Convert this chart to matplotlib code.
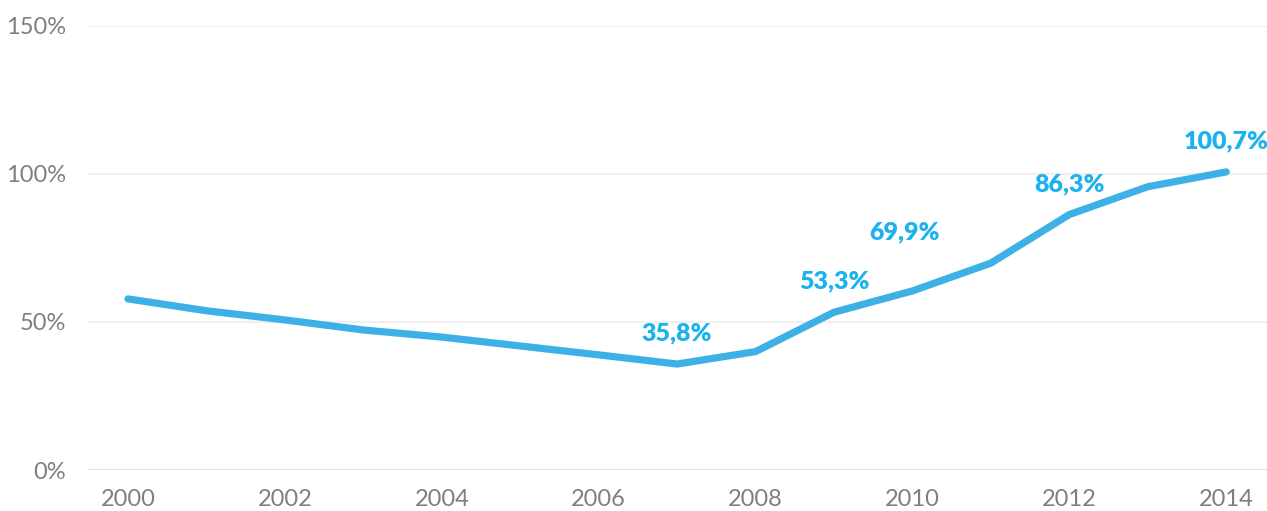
import numpy as np
import matplotlib
matplotlib.use("Agg")
from matplotlib import pyplot as plt

# values (percent)
years = np.arange(2000, 2015)
values = [57.8, 53.8, 50.7, 47.3, 44.9, 41.9, 38.9, 35.8,
          40.0, 53.3, 60.5, 69.9, 86.3, 95.7, 100.7]

# annotated points: year of the point, label text
label_years = [2007, 2009, 2011, 2012, 2014]
label_texts = ["35,8%", "53,3%", "69,9%", "86,3%", "100,7%"]

y_ticks = [0, 50, 100, 150]
x_ticks = [2000, 2002, 2004, 2006, 2008, 2010, 2012, 2014]

plt.rcParams['font.family'] = ['Lato', 'DejaVu Sans']

fig = plt.figure(figsize=(12.67, 5.11), dpi=100)
ax = fig.add_axes([88 / 1267, 41 / 511, 1 - 88 / 1267, 444 / 511])

ax.plot(years, values, color='#3db1e6', linewidth=5.2,
        solid_capstyle='round', solid_joinstyle='round', zorder=3)

for yr, txt in zip(label_years, label_texts):
    v = values[list(years).index(yr)]
    dx = -62 if yr == 2011 else 0  # this one sits left of its point
    ax.annotate(txt, xy=(yr, v), xytext=(dx, 22), textcoords='offset points',
                ha='center', va='center', fontsize=18, fontweight='heavy',
                color='#1cb2ee')

ax.set_xlim(1999.49, 2014.52)
ax.set_ylim(0, 150)
ax.set_yticks(y_ticks)
ax.set_yticklabels([f"{t}%" for t in y_ticks])
ax.set_xticks(x_ticks)
ax.set_xticklabels([str(t) for t in x_ticks])

ax.grid(axis='y', color='#efefef', linewidth=1.6)
ax.grid(axis='x', visible=False)
ax.axhline(0, color='#dcdcdc', linewidth=1.8, zorder=2)
for s in ax.spines.values():
    s.set_visible(False)
ax.tick_params(length=0, labelsize=17, labelcolor='#7f7f7f')
ax.tick_params(axis='y', pad=16)
ax.tick_params(axis='x', pad=14)

fig.savefig('out.png', dpi=100)
